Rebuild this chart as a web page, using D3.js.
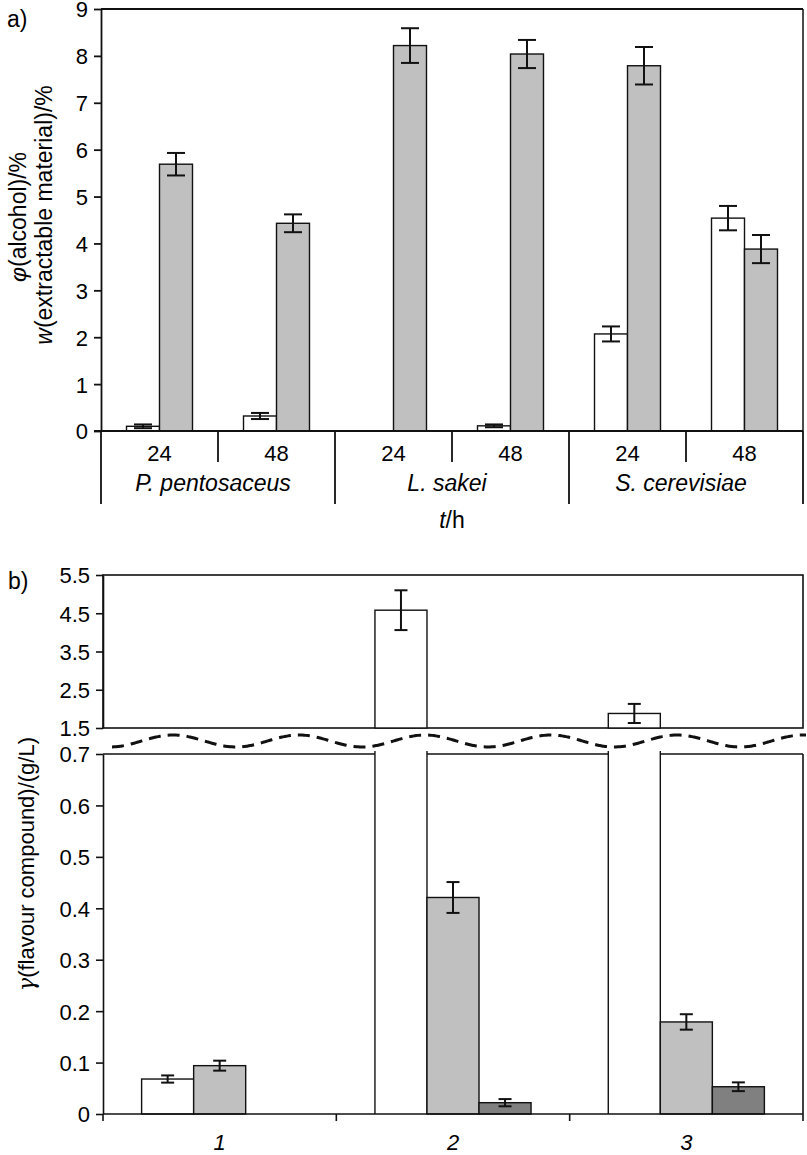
<!DOCTYPE html>
<html><head><meta charset="utf-8">
<script src="https://cdn.jsdelivr.net/npm/d3@7/dist/d3.min.js"></script>
<style>
body{margin:0;background:#fff;}
svg text{font-family:"Liberation Sans",Arial,sans-serif;fill:#000;}
</style></head>
<body><svg id="c" width="807" height="1155"></svg>
<script>
// ---------- DATA: panel a ----------
const species = ["P. pentosaceus", "L. sakei", "S. cerevisiae"];
const times = ["24", "48"];
const alcohol = [0.10, 0.32, null, 0.11, 2.07, 4.54];          // white bars
const alcoholErr = [0.04, 0.065, null, 0.03, 0.16, 0.26];
const extract = [5.69, 4.43, 8.22, 8.04, 7.79, 3.88];          // gray bars
const extractErr = [0.24, 0.19, 0.37, 0.30, 0.40, 0.30];
const yTicksA = [0,1,2,3,4,5,6,7,8,9];

// ---------- DATA: panel b ----------
const compounds = ["1", "2", "3"];
const seriesW = [0.068, 4.58, 1.88];        // white
const seriesWErr = [0.007, 0.52, 0.25];
const seriesG = [0.094, 0.421, 0.179];      // light gray
const seriesGErr = [0.0097, 0.03, 0.015];
const seriesD = [null, 0.022, 0.053];       // dark gray
const seriesDErr = [null, 0.007, 0.0085];
const yTicksUpper = [1.5, 2.5, 3.5, 4.5, 5.5];
const yTicksLower = [0, 0.1, 0.2, 0.3, 0.4, 0.5, 0.6, 0.7];

const svg = d3.select("#c");
const INK = "#111";
const FS = "22px";

// ================= PANEL A =================
(function(){
  const L = 101, R = 803, T = 9, B = 431;
  const slots = [];
  species.forEach(s => times.forEach(t => slots.push(s + "|" + t)));
  const x0 = d3.scaleBand().domain(slots).range([L, R]).paddingInner(0).paddingOuter(0);
  const bw = x0.bandwidth();
  const barW = bw * 0.282;
  const x1 = d3.scaleBand().domain(["alc","ext"]).range([(bw - 2*barW)/2, (bw + 2*barW)/2]);
  const y = d3.scaleLinear().domain([0, 9]).range([B, T]);

  const g = svg.append("g");
  g.append("line").attr("x1", L).attr("x2", R).attr("y1", T).attr("y2", T).attr("stroke", INK).attr("stroke-width", 1.8);
  g.append("line").attr("x1", R).attr("x2", R).attr("y1", T).attr("y2", B).attr("stroke", INK).attr("stroke-width", 1.5);

  const rows = slots.map((k, i) => ({k, alc: alcohol[i], alcE: alcoholErr[i], ext: extract[i], extE: extractErr[i]}));
  const bars = [];
  rows.forEach(r => {
    if (r.alc != null) bars.push({k: r.k, s: "alc", v: r.alc, e: r.alcE, fill: "#fff"});
    bars.push({k: r.k, s: "ext", v: r.ext, e: r.extE, fill: "#c0c0c0"});
  });
  g.selectAll("rect.bar").data(bars).join("rect")
    .attr("x", d => x0(d.k) + x1(d.s)).attr("width", x1.bandwidth())
    .attr("y", d => y(d.v)).attr("height", d => y(0) - y(d.v))
    .attr("fill", d => d.fill).attr("stroke", INK).attr("stroke-width", 1.4);
  const cap = 9;
  const eb = g.selectAll("g.eb").data(bars).join("g").attr("stroke", INK).attr("stroke-width", 2);
  eb.append("line").attr("x1", d => x0(d.k) + x1(d.s) + x1.bandwidth()/2).attr("x2", d => x0(d.k) + x1(d.s) + x1.bandwidth()/2)
    .attr("y1", d => y(d.v + d.e)).attr("y2", d => y(d.v - d.e));
  eb.append("line").attr("x1", d => x0(d.k) + x1(d.s) + x1.bandwidth()/2 - cap).attr("x2", d => x0(d.k) + x1(d.s) + x1.bandwidth()/2 + cap)
    .attr("y1", d => y(d.v + d.e)).attr("y2", d => y(d.v + d.e));
  eb.append("line").attr("x1", d => x0(d.k) + x1(d.s) + x1.bandwidth()/2 - cap).attr("x2", d => x0(d.k) + x1(d.s) + x1.bandwidth()/2 + cap)
    .attr("y1", d => y(d.v - d.e)).attr("y2", d => y(d.v - d.e));

  const ax = g.append("g").attr("transform", `translate(${L},0)`)
    .call(d3.axisLeft(y).tickValues(yTicksA).tickSize(7).tickSizeOuter(0).tickPadding(6).tickFormat(d3.format("d")));
  ax.select(".domain").attr("stroke", INK).attr("stroke-width", 1.8);
  ax.selectAll(".tick line").attr("stroke", INK).attr("stroke-width", 1.8);
  ax.selectAll(".tick text").style("font-size", FS).attr("dy", "0.36em");

  g.append("line").attr("x1", L - 7).attr("x2", R).attr("y1", B).attr("y2", B).attr("stroke", INK).attr("stroke-width", 1.8);
  const divs = slots.map((k, i) => ({x: x0(k), major: i % 2 === 0})).concat([{x: R, major: true}]);
  g.selectAll("line.div").data(divs).join("line")
    .attr("x1", d => d.x).attr("x2", d => d.x).attr("y1", B).attr("y2", d => d.major ? 504 : 462)
    .attr("stroke", INK).attr("stroke-width", 1.8);
  g.selectAll("text.t").data(slots).join("text")
    .attr("x", d => x0(d) + bw/2).attr("y", 461).attr("text-anchor", "middle")
    .style("font-size", FS).text(d => d.split("|")[1]);
  g.selectAll("text.sp").data(species).join("text")
    .attr("x", (d, i) => (x0(d + "|" + times[0]) + x0(d + "|" + times[1]) + bw) / 2).attr("dx", -5).attr("y", 491)
    .attr("text-anchor", "middle").style("font-size", "23px").style("font-style", "italic").text(d => d);
  const xt = g.append("text").attr("x", 452).attr("y", 528).attr("text-anchor", "middle").style("font-size", "23px");
  xt.append("tspan").style("font-style", "italic").text("t");
  xt.append("tspan").text("/h");
  const yt1 = g.append("text").attr("transform", "translate(26,217) rotate(-90)").attr("text-anchor", "middle").style("font-size", "23px");
  yt1.append("tspan").style("font-style", "italic").text("φ");
  yt1.append("tspan").text("(alcohol)/%");
  const yt2 = g.append("text").attr("transform", "translate(52,215) rotate(-90)").attr("text-anchor", "middle").style("font-size", "23px");
  yt2.append("tspan").style("font-style", "italic").text("w");
  yt2.append("tspan").text("(extractable material)/%");
  g.append("text").attr("x", 7).attr("y", 27).style("font-size", "23px").text("a)");
})();

// ================= PANEL B =================
(function(){
  const L = 103, R = 803;
  const uT = 575, uB = 728, lT = 754, lB = 1114;
  const x0 = d3.scaleBand().domain(compounds).range([L, R]);
  const bw = x0.bandwidth();
  const barW = bw * 0.223;
  const x1 = d3.scaleBand().domain(["w","g","d"]).range([(bw - 3*barW)/2, (bw + 3*barW)/2]);
  const yU = d3.scaleLinear().domain([1.5, 5.5]).range([uB, uT]);
  const yL = d3.scaleLinear().domain([0, 0.7]).range([lB, lT]);
  const g = svg.append("g");

  const bars = [];
  compounds.forEach((c, i) => {
    bars.push({c, s: "w", v: seriesW[i], e: seriesWErr[i], fill: "#fff"});
    bars.push({c, s: "g", v: seriesG[i], e: seriesGErr[i], fill: "#c0c0c0"});
    if (seriesD[i] != null) bars.push({c, s: "d", v: seriesD[i], e: seriesDErr[i], fill: "#808080"});
  });
  const bx = d => x0(d.c) + x1(d.s);
  const cx = d => bx(d) + x1.bandwidth()/2;
  const tall = bars.filter(d => d.v > 0.7);
  const low = bars.filter(d => d.v <= 0.7);

  g.append("rect").attr("x", L).attr("y", uT).attr("width", R - L).attr("height", uB - uT)
    .attr("fill", "none").attr("stroke", INK).attr("stroke-width", 1.6);
  g.append("line").attr("x1", L).attr("x2", R).attr("y1", lT).attr("y2", lT).attr("stroke", INK).attr("stroke-width", 1.6);
  g.append("line").attr("x1", R).attr("x2", R).attr("y1", lT).attr("y2", lB + 7).attr("stroke", INK).attr("stroke-width", 1.6);

  g.selectAll("rect.tu").data(tall).join("rect")
    .attr("x", bx).attr("width", x1.bandwidth()).attr("y", d => yU(d.v)).attr("height", d => uB - yU(d.v))
    .attr("fill", d => d.fill).attr("stroke", INK).attr("stroke-width", 1.4);
  g.selectAll("rect.tl").data(tall).join("rect")
    .attr("x", bx).attr("width", x1.bandwidth()).attr("y", lT - 2).attr("height", lB - lT + 2)
    .attr("fill", "#fff").attr("stroke", "none");
  g.selectAll("line.tlL").data(tall).join("line")
    .attr("x1", bx).attr("x2", bx).attr("y1", lT - 3).attr("y2", lB).attr("stroke", INK).attr("stroke-width", 1.4);
  g.selectAll("line.tlR").data(tall).join("line")
    .attr("x1", d => bx(d) + x1.bandwidth()).attr("x2", d => bx(d) + x1.bandwidth()).attr("y1", lT - 3).attr("y2", lB).attr("stroke", INK).attr("stroke-width", 1.4);
  g.selectAll("rect.lo").data(low).join("rect")
    .attr("x", bx).attr("width", x1.bandwidth()).attr("y", d => yL(d.v)).attr("height", d => lB - yL(d.v))
    .attr("fill", d => d.fill).attr("stroke", INK).attr("stroke-width", 1.4);

  const cap = 6.5;
  const drawErr = (data, ys) => {
    const eb = g.selectAll(null).data(data).enter().append("g").attr("stroke", INK).attr("stroke-width", 2);
    eb.append("line").attr("x1", cx).attr("x2", cx).attr("y1", d => ys(d.v + d.e)).attr("y2", d => ys(d.v - d.e));
    eb.append("line").attr("x1", d => cx(d) - cap).attr("x2", d => cx(d) + cap).attr("y1", d => ys(d.v + d.e)).attr("y2", d => ys(d.v + d.e));
    eb.append("line").attr("x1", d => cx(d) - cap).attr("x2", d => cx(d) + cap).attr("y1", d => ys(d.v - d.e)).attr("y2", d => ys(d.v - d.e));
  };
  drawErr(tall, yU);
  drawErr(low, yL);

  const styleAx = ax => {
    ax.select(".domain").attr("stroke", INK).attr("stroke-width", 1.6);
    ax.selectAll(".tick line").attr("stroke", INK).attr("stroke-width", 1.6);
    ax.selectAll(".tick text").style("font-size", FS).attr("dy", "0.36em");
  };
  styleAx(g.append("g").attr("transform", `translate(${L},0)`)
    .call(d3.axisLeft(yU).tickValues(yTicksUpper).tickSize(7).tickSizeOuter(0).tickPadding(6).tickFormat(d3.format(".1f"))));
  styleAx(g.append("g").attr("transform", `translate(${L},0)`)
    .call(d3.axisLeft(yL).tickValues(yTicksLower).tickSize(7).tickSizeOuter(0).tickPadding(6).tickFormat(d => d === 0 ? "0" : d3.format(".1f")(d))));
  g.append("line").attr("x1", L).attr("x2", L).attr("y1", lB).attr("y2", lB + 7).attr("stroke", INK).attr("stroke-width", 1.6);
  g.append("line").attr("x1", L).attr("x2", R).attr("y1", lB).attr("y2", lB).attr("stroke", INK).attr("stroke-width", 1.6);
  const bnd = compounds.map(c => x0(c)).slice(1);
  g.selectAll("line.xt").data(bnd).join("line")
    .attr("x1", d => d).attr("x2", d => d).attr("y1", lB).attr("y2", lB + 7).attr("stroke", INK).attr("stroke-width", 1.6);
  g.selectAll("text.xl").data(compounds).join("text")
    .attr("x", d => x0(d) + bw/2).attr("y", 1150).attr("text-anchor", "middle")
    .style("font-size", FS).style("font-style", "italic").text(d => d);

  // axis break wave (decoration)
  const wave = d3.range(112, 808, 2).map(x => [x, 741 + 6 * Math.cos(2 * Math.PI * (x - 236) / 126)]);
  g.append("path").attr("d", d3.line().curve(d3.curveBasis)(wave))
    .attr("fill", "none").attr("stroke", INK).attr("stroke-width", 3).attr("stroke-dasharray", "12,7");

  const yt = g.append("text").attr("transform", "translate(34,864) rotate(-90)").attr("text-anchor", "middle").style("font-size", "22px");
  yt.append("tspan").style("font-style", "italic").style("font-family", "'DejaVu Serif',serif").text("γ");
  yt.append("tspan").text("(flavour compound)/(g/L)");
  g.append("text").attr("x", 8).attr("y", 589).style("font-size", "23px").text("b)");
})();
</script></body></html>
